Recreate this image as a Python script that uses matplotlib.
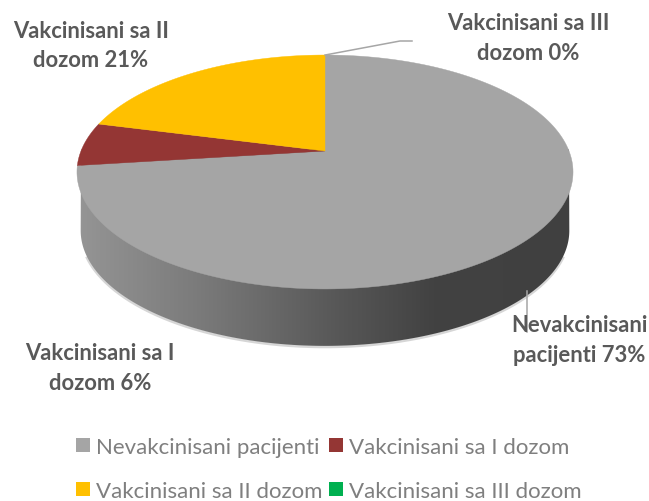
import numpy as np
import matplotlib
matplotlib.use("Agg")
import matplotlib.pyplot as plt
from matplotlib.patches import Patch, Polygon
from matplotlib.colors import LinearSegmentedColormap

categories = ["Nevakcinisani pacijenti", "Vakcinisani sa I dozom",
              "Vakcinisani sa II dozom", "Vakcinisani sa III dozom"]
values = [73, 6, 21, 0]
colors = ["#A5A5A5", "#943634", "#FFC000", "#00B050"]
label_lines = [["Nevakcinisani", "pacijenti 73%"], ["Vakcinisani sa I", "dozom 6%"],
               ["Vakcinisani sa II", "dozom 21%"], ["Vakcinisani sa III", "dozom 0%"]]
label_pos = [(579, 326), (100, 354), (91, 31), (528, 24)]

plt.rcParams['font.family'] = ['Lato', 'DejaVu Sans']
fig = plt.figure(figsize=(6.49, 5.02), dpi=100)
ax = fig.add_axes([0, 0, 1, 1])
ax.set_axis_off()

CX, CY, B, A, K = 325, 152, 244, 113.2, 0.1795
DEPTH, SHRINK = 59, 0.985


def project(theta, scale=1.0, dz=0.0):
    x, y = np.cos(theta), np.sin(theta)
    d = 1 + K * y
    return CX + scale * B * x / d, CY + dz - scale * A * y / d


# side wall, gradient clipped to the silhouette
t = np.linspace(0, 2 * np.pi, 721)
bx, by = project(t, SHRINK, DEPTH)
il, ir = np.argmin(bx), np.argmax(bx)
lo_bx, lo_by = bx[il:ir + 1], by[il:ir + 1]
t2 = np.linspace(0, np.pi, 361)
ux, uy = project(t2)
sil = np.column_stack([np.r_[lo_bx, ux], np.r_[lo_by, uy]])
ax.plot(lo_bx[25:-25], lo_by[25:-25] + 1, color="#999999", lw=2.0, alpha=0.4, zorder=1)
stops = [(0.0, "#959595"), (0.25, "#7A7A7A"), (0.52, "#585858"), (0.72, "#424242"), (1.0, "#404040")]
cmap = LinearSegmentedColormap.from_list("side", stops)
im = ax.imshow(np.linspace(0, 1, 512)[None, :], cmap=cmap, aspect="auto",
               extent=(77, 573, 360, 150), zorder=2)
clip = Polygon(sil, closed=True, transform=ax.transData, fc="none", ec="none")
ax.add_patch(clip)
im.set_clip_path(clip)

# top face
cum = np.cumsum([0] + values) / sum(values)
for i, (v, c) in enumerate(zip(values, colors)):
    if v == 0:
        continue
    th = np.linspace(np.pi / 2 - 2 * np.pi * cum[i], np.pi / 2 - 2 * np.pi * cum[i + 1], 200)
    px, py = project(th)
    ax.fill(np.r_[CX, px], np.r_[CY, py], color=c, lw=0.3, zorder=3)

# leader lines
lc = "#A6A6A6"
leader_x, leader_y = project(np.array([np.pi / 2]))
ax.plot([leader_x[0], 400, 412], [leader_y[0], 42, 42], color=lc, lw=1.1, zorder=4)
ax.plot([527, 527], [292, 333], color=lc, lw=1.1, zorder=4)

for lines, (x, y) in zip(label_lines, label_pos):
    for j, s in enumerate(lines):
        ax.text(x, y + j * 29.5, s, ha="center", va="center", fontsize=15.8,
                fontweight="bold", color="#595959", zorder=5)

ax.set_xlim(0, 649)
ax.set_ylim(502, 0)

# legend: column-first fill, so reorder to read row by row
order = [0, 2, 1, 3]
handles = [Patch(fc=colors[i], ec="none", label=categories[i]) for i in order]
fs = 16.0
hl = 13.5 / (fs * 100 / 72)
ax.legend(handles=handles, ncols=2, loc="lower left", bbox_to_anchor=(76 / 649, 0.0),
          frameon=False, fontsize=fs, labelcolor="#7F7F7F", handlelength=hl, handleheight=hl,
          handletextpad=0.3, columnspacing=0.285, labelspacing=1.1, borderpad=0, borderaxespad=0)

fig.savefig("out.png", dpi=100)
